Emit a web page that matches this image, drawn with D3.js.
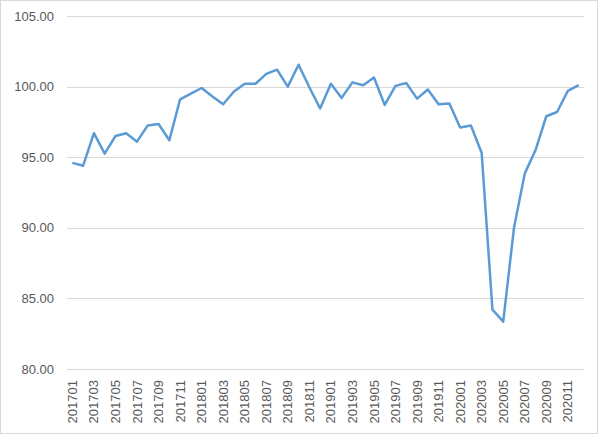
<!DOCTYPE html>
<html>
<head>
<meta charset="utf-8">
<script src="https://cdn.jsdelivr.net/npm/d3@7"></script>
<style>
  body { margin: 0; background: #fff; }
  text { font-family: "Liberation Sans", Arial, sans-serif; fill: #595959; }
</style>
</head>
<body>
<div id="chart"></div>
<script>
// Months 201701 .. 202012
let months = [];
for (let y = 2017; y <= 2020; y++) {
	for (let m = 1; m <= 12; m++) months.push(y + (m < 10 ? "0" : "") + m);
}

// Index values
let values = [
	94.6, 94.4, 96.7, 95.25, 96.5, 96.7, 96.1, 97.25, 97.35, 96.2, 99.1, 99.5,
	99.9, 99.3, 98.75, 99.65, 100.2, 100.2, 100.9, 101.2, 100.0, 101.55, 99.95, 98.45,
	100.2, 99.2, 100.3, 100.1, 100.65, 98.7, 100.05, 100.25, 99.15, 99.8, 98.75, 98.8,
	97.1, 97.25, 95.3, 84.2, 83.35, 90.0, 93.85, 95.5, 97.9, 98.2, 99.7, 100.1
];

let yTicks = [80, 85, 90, 95, 100, 105];

let width = 600, height = 435;
let margin = { top: 16, right: 16, bottom: 66, left: 67 };

let svg = d3.select("#chart")
	.append("svg")
	.attr("width", width)
	.attr("height", height);

// Outer chart frame
svg.append("rect")
	.attr("x", 0.5).attr("y", 0.5)
	.attr("width", 597).attr("height", 433)
	.attr("fill", "none")
	.attr("stroke", "#d9d9d9");

let x = d3.scaleBand()
	.domain(months)
	.range([margin.left, width - margin.right]);

let y = d3.scaleLinear()
	.domain([80, 105])
	.range([height - margin.bottom, margin.top]);

// Gridlines
svg.append("g")
	.selectAll("line")
	.data(yTicks)
	.enter().append("line")
	.attr("x1", margin.left)
	.attr("x2", width - margin.right)
	.attr("y1", d => Math.round(y(d)) + 0.5)
	.attr("y2", d => Math.round(y(d)) + 0.5)
	.attr("stroke", "#d9d9d9")
	.attr("stroke-width", 1);

// Y axis labels
let yAxis = svg.append("g")
	.attr("transform", "translate(" + (margin.left - 13) + ",0)")
	.call(d3.axisLeft(y).tickValues(yTicks).tickFormat(d3.format(".2f")).tickSize(0).tickPadding(0));
yAxis.select(".domain").remove();
yAxis.selectAll("text")
	.style("font-size", "13px")
	.style("fill", "#595959");

// X axis labels (every other month, rotated)
let xAxis = svg.append("g")
	.attr("transform", "translate(0," + (height - margin.bottom) + ")")
	.call(d3.axisBottom(x).tickValues(months.filter((d, i) => i % 2 === 0)).tickSize(0).tickPadding(0));
xAxis.select(".domain")
	.attr("stroke", "#d9d9d9");
xAxis.selectAll("text")
	.style("font-size", "13px")
	.style("fill", "#595959")
	.attr("text-anchor", "end")
	.attr("transform", "rotate(-90)")
	.attr("x", -11)
	.attr("y", 0)
	.attr("dy", "0.35em");

// The line
let line = d3.line()
	.x((d, i) => x(months[i]) + x.bandwidth() / 2)
	.y(d => y(d));

svg.append("path")
	.datum(values)
	.attr("d", line)
	.attr("fill", "none")
	.attr("stroke", "#5b9bd5")
	.attr("stroke-width", 2.5)
	.attr("stroke-linejoin", "round");
</script>
</body>
</html>
